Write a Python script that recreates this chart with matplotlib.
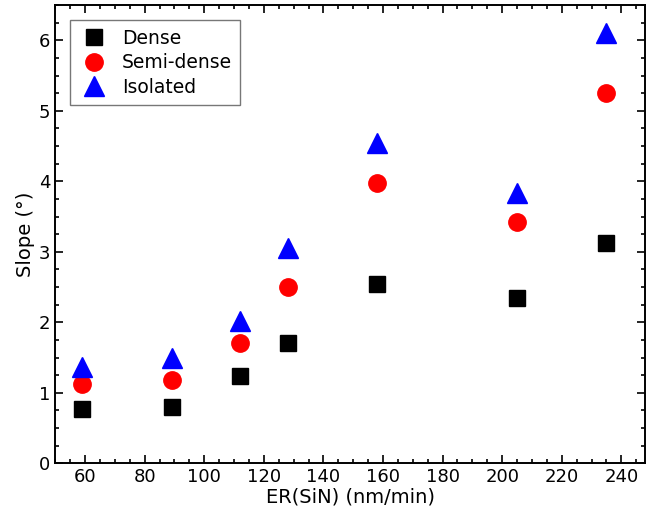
import matplotlib
matplotlib.use("Agg")
import matplotlib.pyplot as plt
from matplotlib.ticker import MultipleLocator

plt.rcParams['font.family'] = ['DejaVu Sans']

er = [59, 89, 112, 128, 158, 205, 235]
dense = [0.77, 0.80, 1.24, 1.70, 2.55, 2.35, 3.13]
semi_dense = [1.12, 1.18, 1.71, 2.50, 3.97, 3.42, 5.25]
isolated = [1.36, 1.50, 2.02, 3.05, 4.54, 3.84, 6.10]

fig = plt.figure(figsize=(6.51, 5.17), dpi=100)
ax = fig.add_axes([0.085, 0.104, 0.906, 0.886])

ax.plot(er, dense, ls='none', marker='s', ms=11.5, color='black', label='Dense')
ax.plot(er, semi_dense, ls='none', marker='o', ms=12.5, color='#ff0000', label='Semi-dense')
ax.plot(er, isolated, ls='none', marker='^', ms=14.5, color='#0000ff', label='Isolated')

ax.set_xlim(50, 248)
ax.set_ylim(0, 6.5)
ax.xaxis.set_major_locator(MultipleLocator(20))
ax.xaxis.set_minor_locator(MultipleLocator(5))
ax.yaxis.set_major_locator(MultipleLocator(1))
ax.yaxis.set_minor_locator(MultipleLocator(0.25))
ax.tick_params(which='both', direction='in', top=True, right=True, labelsize=13, width=1.2)
ax.tick_params(which='major', length=6)
ax.tick_params(which='minor', length=3)
ax.set_xticks(range(60, 241, 20))
for s in ax.spines.values():
    s.set_linewidth(1.4)

ax.set_xlabel('ER(SiN) (nm/min)', fontsize=14, labelpad=1)
ax.set_ylabel('Slope (°)', fontsize=14, labelpad=3)

leg = ax.legend(loc='upper left', fontsize=13.5, frameon=True, fancybox=False,
                edgecolor='#555555', borderaxespad=0.8, handletextpad=0.7,
                labelspacing=0.3, borderpad=0.45, handlelength=1.6)
leg.get_frame().set_linewidth(1.0)

fig.savefig('out.png', dpi=100)
